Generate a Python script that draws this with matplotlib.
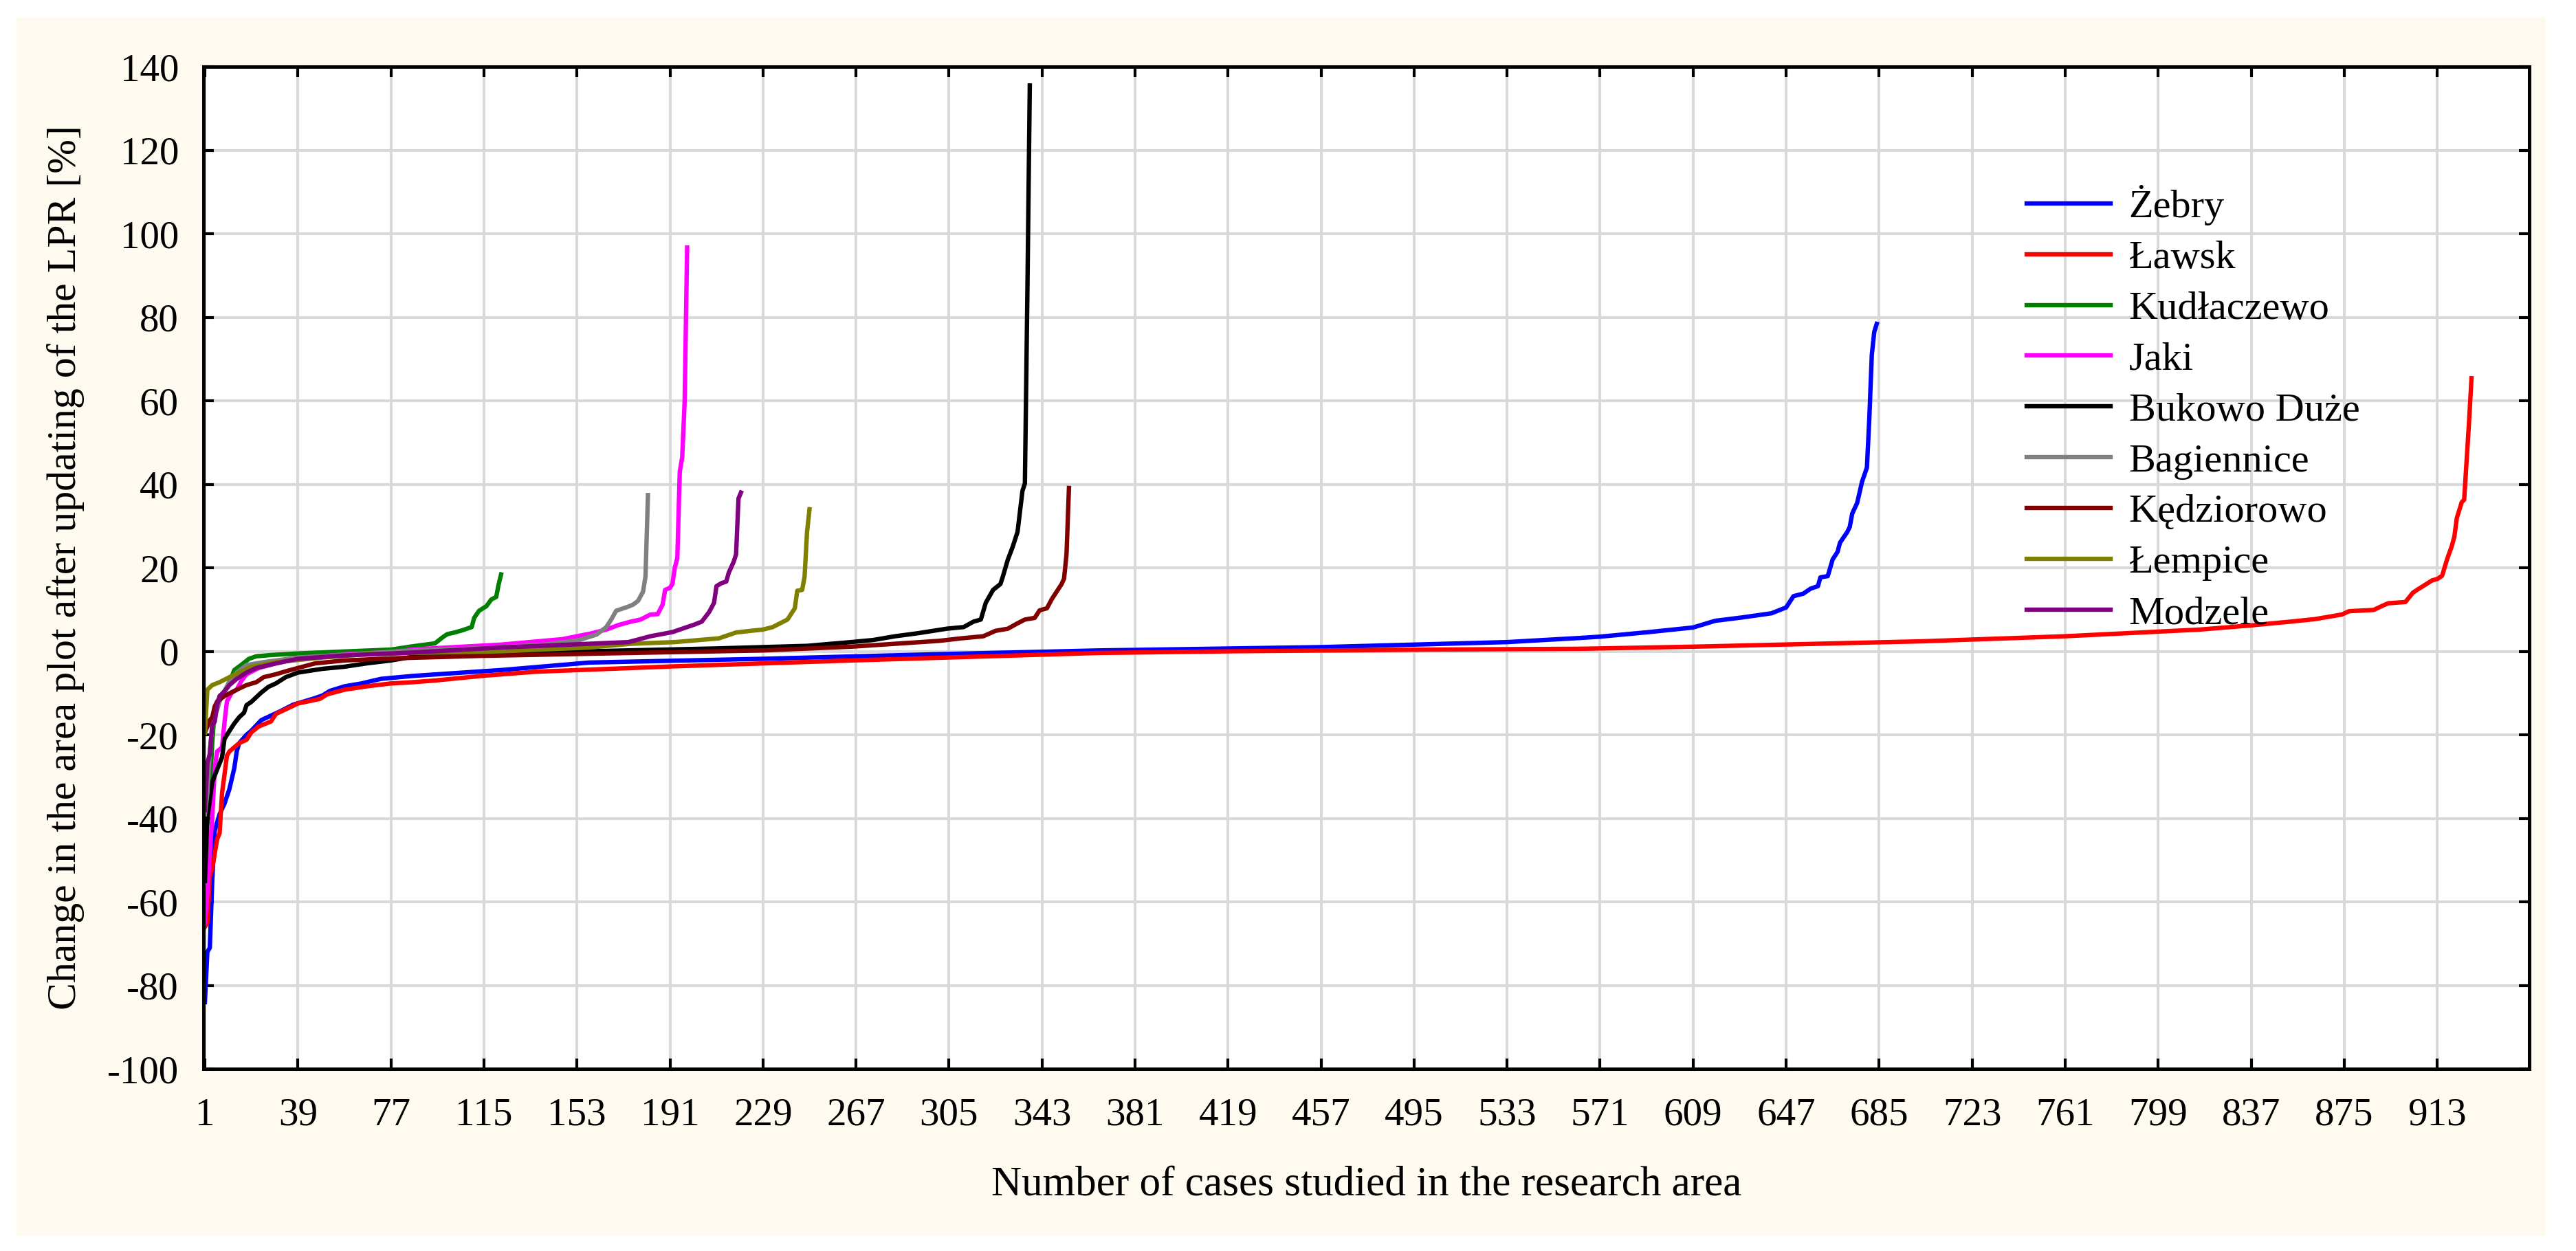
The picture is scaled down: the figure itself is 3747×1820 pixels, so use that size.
import matplotlib.pyplot as plt
from matplotlib.patches import Rectangle

plt.rcParams['font.family'] = ['Liberation Serif', 'DejaVu Serif']
plt.rcParams['axes.unicode_minus'] = False

# case number and change in area [%], one pair per village
zebry_case = [1, 2, 3, 4, 5, 7, 9, 11, 13, 14, 15, 18, 20, 24, 28, 32, 37, 45, 49, 52,
              58, 65, 70, 73, 86, 114, 122, 158, 229, 300, 366, 457, 533, 563, 571, 591,
              609, 618, 629, 641, 647, 650, 654, 657, 660, 661, 664, 666, 668, 669, 672,
              673, 674, 676, 678, 680, 681, 682, 683, 684]
zebry_val = [-84, -72, -71, -55, -43, -39, -36.5, -33, -28, -24, -22, -20, -19, -16.5,
             -15.4, -14.3, -12.8, -11.4, -10.6, -9.5, -8.4, -7.7, -7, -6.6, -5.9, -4.8,
             -4.5, -2.7, -1.8, -0.7, 0.2, 1.0, 2.2, 3.2, 3.5, 4.6, 5.7, 7.3, 8.1, 9.1,
             10.5, 13.2, 13.8, 15, 15.6, 17.7, 18, 22, 23.8, 26, 28.6, 29.8, 33, 35.5,
             40.6, 44, 56, 71, 76.5, 78.4]

lawsk_case = [1, 2, 3, 4, 6, 7, 8, 10, 11, 13, 15, 18, 20, 23, 28, 30, 34, 39, 48, 51,
              58, 67, 77, 86, 95, 114, 136, 193, 265, 366, 420, 500, 563, 609, 703, 761,
              816, 837, 844, 853, 863, 868, 874, 877, 887, 891, 893, 900, 903, 905, 908,
              911, 913, 915, 917, 919, 920, 921, 923, 924, 926, 927]
lawsk_val = [-66, -65, -54, -52, -45, -43.6, -34, -25, -24, -23, -22, -21.2, -19.4, -18,
             -16.8, -15, -13.9, -12.5, -11.4, -10.3, -9.2, -8.4, -7.7, -7.4, -7, -5.9,
             -4.9, -3.6, -2.2, -0.4, 0, 0.4, 0.6, 1.1, 2.4, 3.6, 5.2, 6.2, 6.6, 7.1, 7.7,
             8.2, 8.8, 9.6, 9.9, 11, 11.5, 11.8, 14, 14.8, 15.9, 17, 17.3, 18.1, 22, 25.3,
             27.5, 31.9, 35.7, 36.3, 55, 65.4]

kudlaczewo_case = [1, 2, 3, 4, 5, 6, 8, 10, 12, 13, 16, 19, 22, 28, 38, 60, 77, 86, 95,
                   98, 100, 103, 106, 110, 111, 113, 116, 118, 120, 121, 122]
kudlaczewo_val = [-45, -41, -33, -22, -14, -12, -10.5, -8.5, -6, -4.5, -3.2, -1.8, -1.2,
                  -0.9, -0.55, 0, 0.4, 1.2, 1.9, 3.3, 4.1, 4.5, 5, 5.8, 8, 9.7, 10.8,
                  12.4, 13, 16, 18.4]

jaki_case = [1, 2, 3, 4, 5, 6, 8, 9, 10, 12, 14, 16, 18, 23, 30, 39, 58, 77, 86, 122,
             147, 159, 165, 170, 175, 179, 183, 186, 188, 189, 191, 192, 193, 194, 195,
             196, 197, 198]
jaki_val = [-65, -58, -48, -40, -28, -24, -23, -17, -12, -9.9, -9.2, -7, -5.5, -4, -2.9,
            -1.8, -0.7, -0.2, 0.45, 1.6, 2.9, 4.3, 5.2, 6.3, 7.1, 7.6, 8.8, 8.9, 11.2,
            14.7, 15.2, 16.1, 20.1, 22.3, 43, 46.5, 60, 96.7]

bukowo_case = [1, 2, 4, 6, 8, 9, 11, 13, 15, 17, 18, 20, 24, 27, 30, 34, 39, 49, 58, 67,
               77, 86, 158, 211, 247, 265, 274, 283, 292, 304, 311, 315, 318, 320, 323,
               326, 327, 329, 331, 333, 335, 336, 337, 338]
bukowo_val = [-55, -40, -31.3, -28.3, -25.4, -21, -19.1, -17.3, -15.8, -14.7, -12.9,
              -12.1, -9.9, -8.5, -7.7, -6.2, -5.1, -4.2, -3.7, -2.9, -2.2, -1.3, 0, 0.7,
              1.3, 2.2, 2.7, 3.6, 4.3, 5.4, 5.8, 7.1, 7.6, 11.6, 14.7, 16.1, 17.9, 21.9,
              25, 28.6, 38.4, 40.2, 85, 135.5]

bagiennice_case = [1, 2, 3, 4, 5, 6, 7, 9, 11, 14, 18, 25, 39, 67, 86, 113, 140, 154, 161,
                   165, 167, 169, 172, 174, 176, 178, 180, 181, 182]
bagiennice_val = [-39, -34, -24, -18, -15.5, -14, -12, -9.6, -7.4, -5.1, -3.3, -2.6, -1.5,
                  -0.5, 0.2, 0.7, 1.6, 2.7, 4, 5.8, 7.6, 9.7, 10.3, 10.7, 11.2, 12.1, 14.3,
                  17.9, 37.4]

kedziorowo_case = [1, 3, 4, 5, 6, 9, 14, 18, 22, 25, 30, 34, 39, 46, 58, 77, 114, 175, 229,
                   265, 283, 301, 310, 319, 324, 329, 333, 336, 340, 342, 345, 347, 349,
                   351, 352, 353, 354]
kedziorowo_val = [-19.5, -16.5, -15.8, -13.2, -12.1, -10.7, -9.2, -8.1, -7.4, -6.2, -5.5,
                  -4.8, -4, -2.9, -2.2, -1.7, -1.1, -0.4, 0.2, 1.1, 1.8, 2.5, 3.1, 3.6, 4.9,
                  5.4, 6.7, 7.6, 8, 9.8, 10.3, 12.5, 14.3, 16.1, 17.4, 23.2, 39.1]

lempice_case = [1, 2, 4, 7, 11, 16, 20, 30, 49, 67, 86, 122, 158, 175, 193, 211, 218, 224,
                229, 233, 236, 239, 242, 243, 245, 246, 247, 248]
lempice_val = [-19.5, -9.2, -8.1, -7.4, -6.2, -4.8, -3.7, -2.6, -1.5, -0.7, -0.4, 0, 0.9,
               1.8, 2.2, 3.1, 4.5, 4.9, 5.2, 5.8, 6.7, 7.6, 10.3, 14.5, 14.7, 17.9, 28.6, 34]

modzele_case = [1, 2, 3, 4, 5, 6, 7, 9, 11, 14, 18, 22, 30, 39, 58, 86, 122, 158, 174, 183,
                192, 198, 201, 204, 207, 209, 210, 212, 214, 215, 217, 218, 219, 220]
modzele_val = [-38, -26.8, -24.6, -17.6, -16.9, -12.9, -10.7, -9.6, -8.1, -6.6, -5.1, -4,
               -2.9, -1.8, -1, -0.3, 0.9, 1.8, 2.2, 3.6, 4.6, 5.8, 6.4, 7.1, 9.4, 11.6, 15.6,
               16.3, 16.7, 18.8, 21.4, 23.2, 36.6, 38]

names = ['Żebry', 'Ławsk', 'Kudłaczewo', 'Jaki', 'Bukowo Duże', 'Bagiennice',
         'Kędziorowo', 'Łempice', 'Modzele']
cases = [zebry_case, lawsk_case, kudlaczewo_case, jaki_case, bukowo_case,
         bagiennice_case, kedziorowo_case, lempice_case, modzele_case]
values = [zebry_val, lawsk_val, kudlaczewo_val, jaki_val, bukowo_val,
          bagiennice_val, kedziorowo_val, lempice_val, modzele_val]
colors = ['#0000FF', '#FF0000', '#008000', '#FF00FF', '#000000', '#808080',
          '#800000', '#808000', '#800080']

x_ticks = list(range(1, 914, 38))
y_ticks = list(range(-100, 141, 20))

fig = plt.figure(figsize=(18.74, 9.10), dpi=200)
# cream panel behind everything, thin white margin around it
fig.patches.append(Rectangle((0.0064, 0.0121), 0.9816, 0.9742, transform=fig.transFigure,
                             facecolor='#FEFAF0', edgecolor='none', zorder=-10))

ax = fig.add_axes([0.079, 0.1456, 0.9026, 0.8011])
ax.set_facecolor('white')

for name, xs, ys, c in zip(names, cases, values, colors):
    ax.plot(xs, ys, color=c, lw=2.3, label=name)

ax.set_xlim(0.45, 950.6)
ax.set_ylim(-100, 140)
ax.set_xticks(x_ticks)
ax.set_yticks(y_ticks)
ax.grid(True, color='#D9D9D9', lw=1.45)
ax.set_axisbelow(True)
for sp in ax.spines.values():
    sp.set_linewidth(1.8)
ax.tick_params(direction='in', length=5.5, width=1.5, top=True, right=True, labelsize=20.5)
ax.tick_params(axis='x', pad=15)
ax.tick_params(axis='y', pad=13)

ax.set_xlabel('Number of cases studied in the research area', fontsize=22, labelpad=17)
ax.set_ylabel('Change in the area plot after updating of the LPR [%]', fontsize=21.5, labelpad=12)

ax.legend(loc='upper left', bbox_to_anchor=(0.7865, 0.852), bbox_transform=fig.transFigure,
          frameon=False, fontsize=21, borderpad=0, borderaxespad=0, labelspacing=0.36,
          handlelength=2.1, handletextpad=0.45)

fig.savefig('out.png', dpi=200, facecolor='white')
